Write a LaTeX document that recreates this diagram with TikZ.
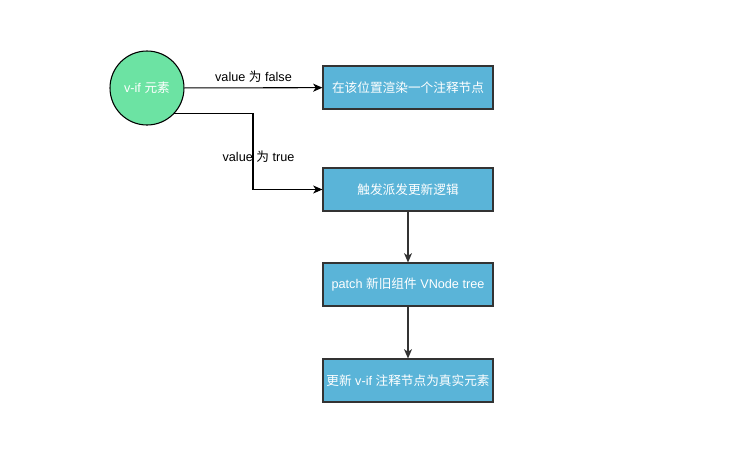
\documentclass[tikz,border=0pt]{standalone}
\usepackage{fontspec}
\setmainfont{Liberation Sans}
\newfontfamily\cjk{Noto Sans CJK SC}
\usetikzlibrary{arrows.meta}
\definecolor{vifgreen}{HTML}{6CE3A3}
\definecolor{stepblue}{HTML}{5AB4D8}
\definecolor{stepline}{HTML}{333333}
\tikzset{
  stepbox/.style = {draw = stepline, fill = stepblue, text = white, minimum width = 127.5pt, minimum height = 32.25pt, inner sep = 0pt, font = \fontsize{9.5}{11}\selectfont},
  vnode/.style = {draw, circle, fill = vifgreen, text = white, minimum size = 55.5pt, inner sep = 0pt, font = \fontsize{9.5}{11}\selectfont},
  lbl/.style = {font = \fontsize{9.5}{11}\selectfont}
}

\begin{document}
\begin{tikzpicture} [x = 0.75pt, y = -0.75pt, >={Stealth[length = 7pt, width = 6pt, inset = 2pt]}, line width = 0.8pt]
\useasboundingbox (0, 0) rectangle (732, 469);
\node[vnode] (v) at (147, 88) {v-if {\cjk 元素}};
\node[stepbox] (b1) at (408, 87.5) {\cjk 在该位置渲染一个注释节点};
\node[stepbox] (b2) at (408, 189.5) {\cjk 触发派发更新逻辑};
\node[stepbox] (b3) at (408, 284.5) {patch {\cjk 新旧组件} VNode tree};
\node[stepbox] (b4) at (408, 380.5) {{\cjk 更新} v-if {\cjk 注释节点为真实元素}};
\coordinate (bend) at (253, 189.5);
\draw [->] (v) -- (b1) node[lbl, above, pos = .5]{value {\cjk 为} false};
\draw [->] (v.-43) -| (bend) -- (b2);
\node[lbl] (ltrue) at (258.5, 157) {value {\cjk 为} true};
\draw [->, stepline] (b2) -- (b3);
\draw [->, stepline] (b3) -- (b4);
\end{tikzpicture}
\end{document}
